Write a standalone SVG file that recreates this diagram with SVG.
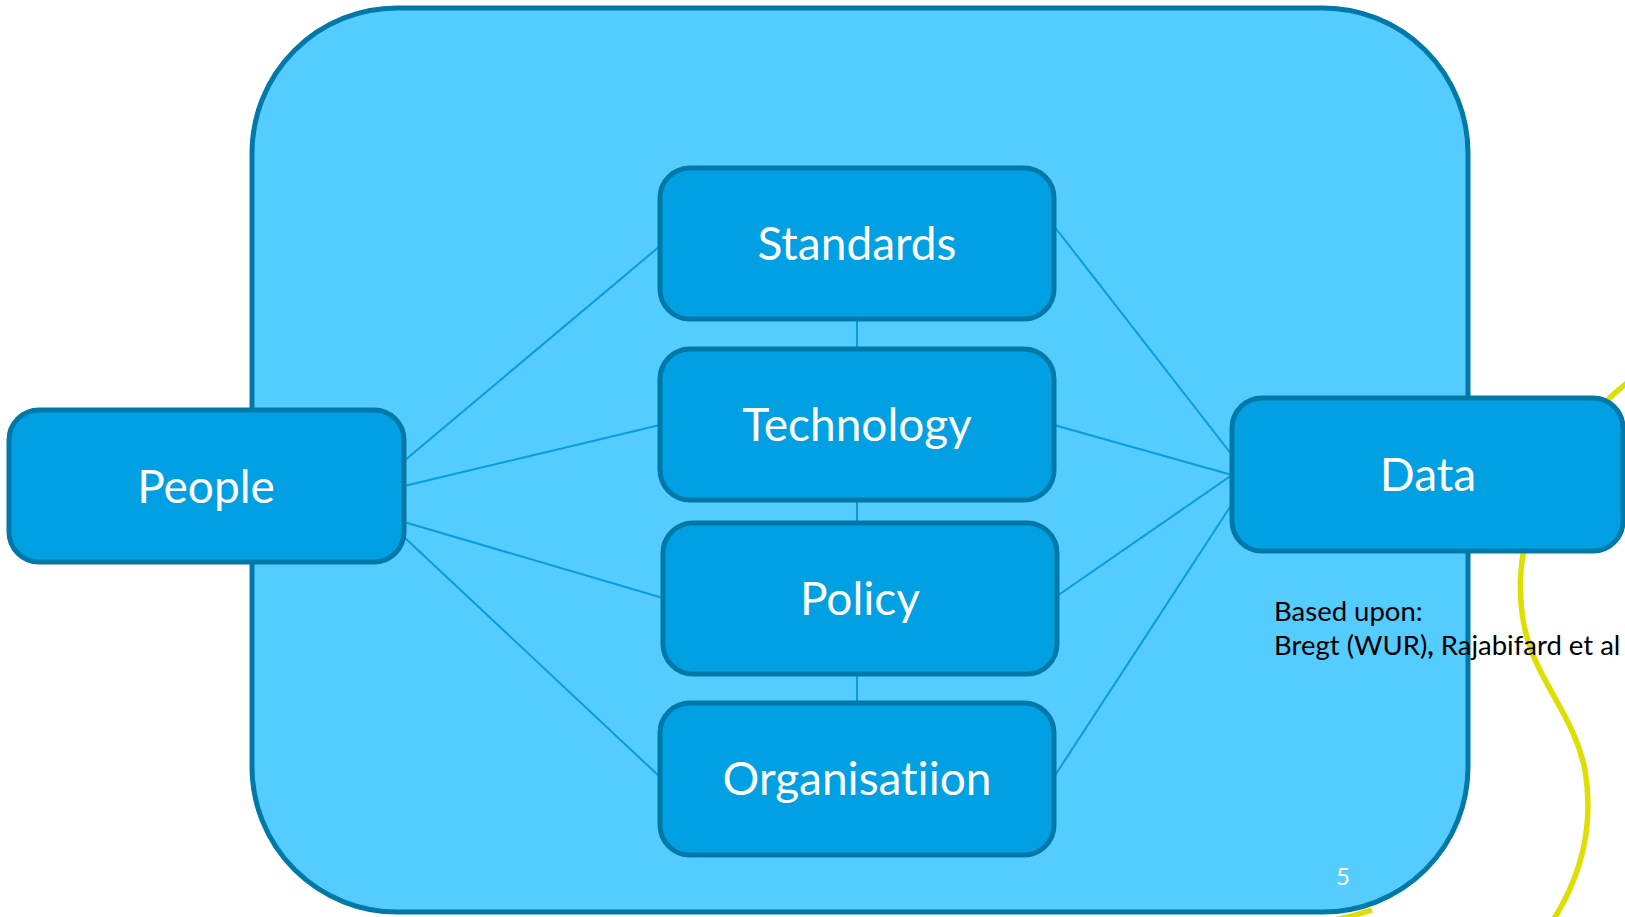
<svg xmlns="http://www.w3.org/2000/svg" width="1625" height="917" viewBox="0 0 1625 917">
<style>
.bg{fill:#ffffff}
.deco{fill:none;stroke:#DEDE00;stroke-width:5.5}
.frame{fill:#55CCFF;stroke:#0078A8;stroke-width:5}
.node rect{fill:#00A0E3;stroke:#0078A8;stroke-width:5}
.node text{fill:#ffffff;font-family:Lato,"Open Sans",sans-serif;font-size:46px;text-anchor:middle;font-variant-ligatures:none;font-feature-settings:"liga" 0,"dlig" 0}
.conn line{stroke:#0A9BDD;stroke-width:2}
.note{fill:#000000;font-family:Lato,"Open Sans",sans-serif;font-size:27.5px;font-variant-ligatures:none}
.pg{fill:#ffffff;font-family:Lato,"Open Sans",sans-serif;font-size:24px;text-anchor:middle}
</style>
<rect class="bg" x="0" y="0" width="1625" height="917"/>
<path class="deco" d="M1330,921 Q1350,917 1372,910" stroke-width="4"/>
<path class="deco" d="M1650,366 C1540,440 1500,560 1530,647 C1545,690 1575,720 1585,770 C1595,830 1580,880 1550,925"/>
<rect class="frame" x="252" y="8" width="1216" height="904" rx="145" ry="145"/>
<g id="connectors" class="conn">
<line x1="404" y1="461" x2="660" y2="246"/>
<line x1="404" y1="486" x2="660" y2="425"/>
<line x1="404" y1="522" x2="663" y2="598"/>
<line x1="404" y1="537" x2="660" y2="777"/>
<line x1="1054" y1="226" x2="1232" y2="455"/>
<line x1="1054" y1="425" x2="1232" y2="475"/>
<line x1="1057" y1="596" x2="1232" y2="475"/>
<line x1="1054" y1="777" x2="1232" y2="504"/>
<line x1="857" y1="318" x2="857" y2="349"/>
<line x1="857" y1="500" x2="857" y2="523"/>
<line x1="857" y1="674" x2="857" y2="703"/>
</g>
<g id="people" class="node"><rect x="9" y="410" width="395" height="152" rx="30"/><text x="206" y="503">People</text></g>
<g id="standards" class="node"><rect x="660" y="168" width="394" height="151" rx="30"/><text x="857" y="260">Standards</text></g>
<g id="technology" class="node"><rect x="660" y="349" width="394" height="151" rx="30"/><text x="857" y="441">Technology</text></g>
<g id="policy" class="node"><rect x="663" y="523" width="394" height="151" rx="30"/><text x="860" y="615">Policy</text></g>
<g id="organisatiion" class="node"><rect x="660" y="703" width="394" height="152" rx="30"/><text x="857" y="795">Organisatiion</text></g>
<g id="data" class="node"><rect x="1232" y="398" width="391" height="153" rx="30"/><text x="1428" y="491">Data</text></g>
<text class="note" x="1274" y="621">Based upon:</text>
<text class="note" x="1274" y="655">Bregt (WUR)<tspan font-weight="bold">,</tspan> Rajabifard et al</text>
<text class="pg" x="1343" y="885">5</text>
</svg>
